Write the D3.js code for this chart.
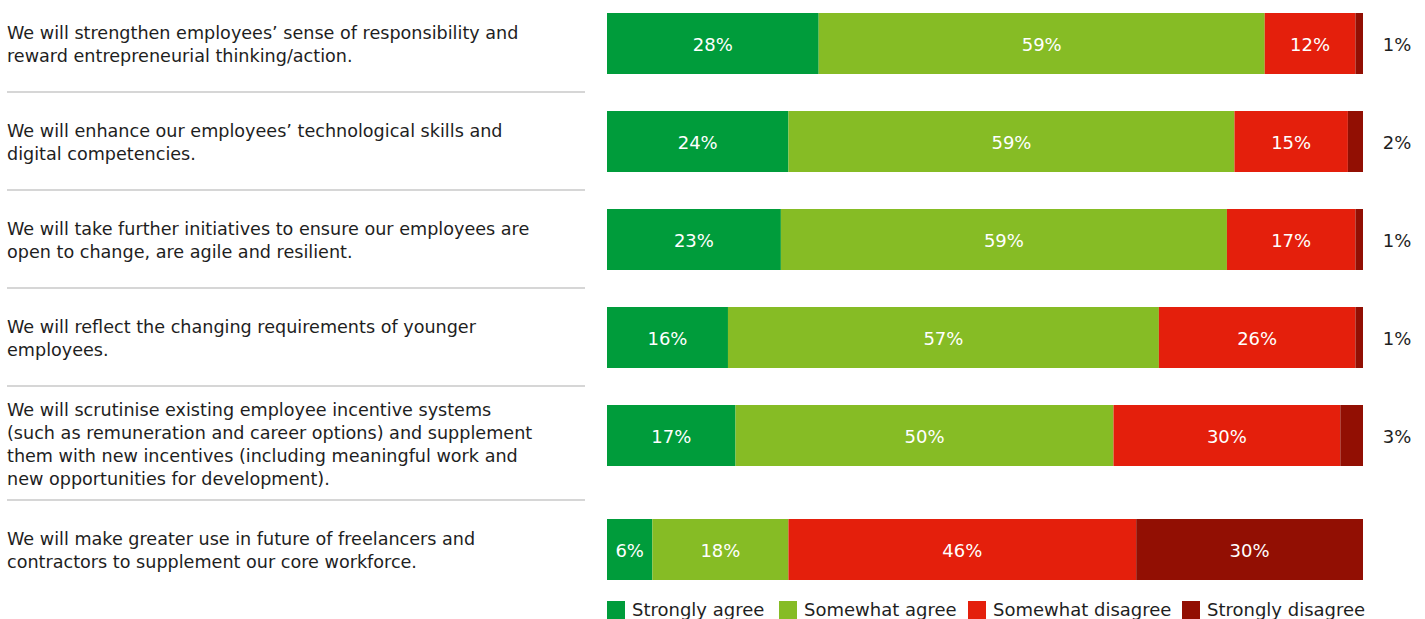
<!DOCTYPE html>
<html>
<head>
<meta charset="utf-8">
<script src="https://cdn.jsdelivr.net/npm/d3@7"></script>
<style>
  html, body { margin: 0; padding: 0; background: #fff; }
  svg { display: block; font-family: "DejaVu Sans", Verdana, sans-serif; }
</style>
</head>
<body>
<svg id="chart" width="1425" height="619"></svg>
<script>
// Survey statements, already broken into display lines
const statements = [
  ["We will strengthen employees\u2019 sense of responsibility and", "reward entrepreneurial thinking/action."],
  ["We will enhance our employees\u2019 technological skills and", "digital competencies."],
  ["We will take further initiatives to ensure our employees are", "open to change, are agile and resilient."],
  ["We will reflect the changing requirements of younger", "employees."],
  ["We will scrutinise existing employee incentive systems", "(such as remuneration and career options) and supplement", "them with new incentives (including meaningful work and", "new opportunities for development)."],
  ["We will make greater use in future of freelancers and", "contractors to supplement our core workforce."]
];

// Share of respondents (%) per answer
const stronglyAgree     = [28, 24, 23, 16, 17, 6];
const somewhatAgree     = [59, 59, 59, 57, 50, 18];
const somewhatDisagree  = [12, 15, 17, 26, 30, 46];
const stronglyDisagree  = [1, 2, 1, 1, 3, 30];

const answers = ["Strongly agree", "Somewhat agree", "Somewhat disagree", "Strongly disagree"];
const answerColors = ["#009c3b", "#86bc25", "#e41f0c", "#920f03"];

const series = [stronglyAgree, somewhatAgree, somewhatDisagree, stronglyDisagree];

const svg = d3.select("#chart");

const x = d3.scaleLinear().domain([0, 100]).range([607, 1363]);
const color = d3.scaleOrdinal().domain(answers).range(answerColors);

// Row geometry: each row grows with its wrapped label
const lineH = 23;
const barH = 61;
const barOffset = 19;
const rowHeights = statements.map(s => Math.max(98, s.length * lineH + 22));
const rowTops = [];
rowHeights.reduce((acc, h) => { rowTops.push(acc); return acc + h; }, -6);

// Stacked rows
const rows = statements.map((s, i) => {
  let acc = 0;
  const segs = series.map((arr, k) => {
    const seg = { key: answers[k], x0: acc, x1: acc + arr[i], v: arr[i] };
    acc += arr[i];
    return seg;
  });
  return { lines: s, top: rowTops[i], h: rowHeights[i], segs };
});

const row = svg.selectAll("g.row").data(rows).join("g").attr("class", "row");

// Separators between rows
row.filter((d, i) => i > 0).append("line")
  .attr("x1", 7).attr("x2", 585)
  .attr("y1", d => d.top).attr("y2", d => d.top)
  .attr("stroke", "#c8c8c8").attr("stroke-width", 1.5);

// Statement labels
row.append("text")
  .attr("fill", "#1e1e1e")
  .attr("font-size", 17.6)
  .each(function(d) {
    const t = d3.select(this);
    const n = d.lines.length;
    const cy = d.top + d.h / 2;
    d.lines.forEach((ln, j) => {
      t.append("tspan")
        .attr("x", 7)
        .attr("y", cy + (j - (n - 1) / 2) * lineH)
        .attr("dy", "0.45em")
        .text(ln);
    });
  });

// Bars with value labels
row.each(function(d) {
  const g = d3.select(this);
  const y0 = d.top + barOffset;
  const cy = y0 + barH / 2;
  g.selectAll("rect").data(d.segs).join("rect")
    .attr("x", s => x(s.x0))
    .attr("width", s => x(s.x1) - x(s.x0))
    .attr("y", y0)
    .attr("height", barH)
    .attr("fill", s => color(s.key));

  g.selectAll("text.val").data(d.segs).join("text")
    .attr("class", "val")
    .attr("font-size", 18)
    .attr("dy", "0.35em")
    .attr("y", cy + 1)
    .attr("text-anchor", "middle")
    .attr("x", s => s.v >= 5 ? (x(s.x0) + x(s.x1)) / 2 : x(100) + 34)
    .attr("fill", s => s.v >= 5 ? "#ffffff" : "#1e1e1e")
    .text(s => s.v + "%");
});

// Legend
const legend = svg.append("g").attr("class", "legend");
const legendX = [607, 779, 968, 1182];
const lg = legend.selectAll("g").data(answers).join("g")
  .attr("transform", (d, i) => `translate(${legendX[i]},601)`);
lg.append("rect").attr("width", 18).attr("height", 18).attr("fill", d => color(d));
lg.append("text").attr("x", 25).attr("y", 15).attr("font-size", 18)
  .attr("fill", "#1e1e1e").text(d => d);
</script>
</body>
</html>
